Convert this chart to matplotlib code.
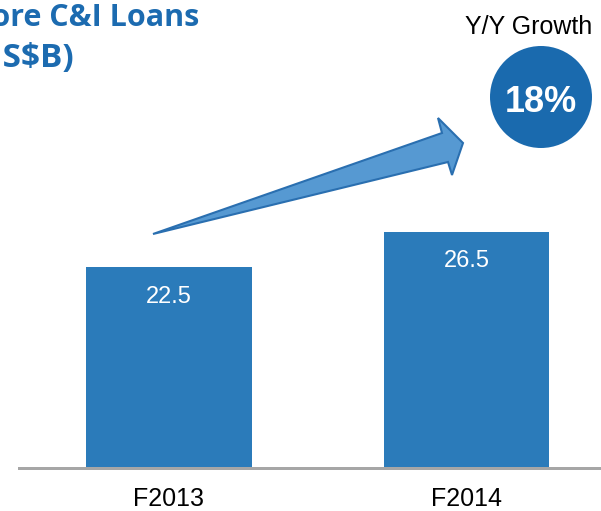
import matplotlib
matplotlib.use("Agg")
import matplotlib.pyplot as plt
from matplotlib.patches import Circle, Polygon

categories = ["F2013", "F2014"]
values = [22.5, 26.5]
title_line1 = "Core C&I Loans"
title_line2 = "(US$B)"
growth_label = "Y/Y Growth"

BAR = "#2b7bba"
TITLE = "#1c6bb0"
CIRCLE = "#1a6aae"

plt.rcParams["font.family"] = ["Liberation Sans", "DejaVu Sans"]

W, H = 601, 511
fig = plt.figure(figsize=(W / 100, H / 100), dpi=100)

# main axes (pixel-calibrated)
ax_left, ax_bottom_px = 19, 467.5
ax = fig.add_axes([ax_left / W, (H - ax_bottom_px) / H, 1 - ax_left / W, ax_bottom_px / H])
x = list(range(len(categories)))
ax.bar(x, values, width=0.556, color=BAR, zorder=1)
ax.set_xlim(-0.5037, 1.452)
ax.set_ylim(0, ax_bottom_px / 8.9)
for s in ["top", "left", "right"]:
    ax.spines[s].set_visible(False)
ax.spines["bottom"].set_color("#a6a6a6")
ax.spines["bottom"].set_linewidth(2.16)
ax.set_yticks([])
ax.set_xticks(x)
ax.set_xticklabels(categories, fontsize=18, color="black")
ax.tick_params(axis="x", length=0, pad=14)
for xi, v in zip(x, values):
    ax.annotate(f"{v:.1f}", (xi, v), xytext=(0, -25.6), textcoords="offset points",
                ha="center", va="baseline", color="white", fontsize=17)

# overlay in pixel coordinates for decorations
ov = fig.add_axes([0, 0, 1, 1], facecolor="none")
ov.set_xlim(0, W)
ov.set_ylim(H, 0)
ov.axis("off")

ov.text(199, 26.5, title_line1, ha="right", va="baseline", fontsize=22,
        fontweight="bold", color=TITLE, family=["Open Sans", "DejaVu Sans"])
ov.text(74, 67.5, title_line2, ha="right", va="baseline", fontsize=24,
        fontweight="bold", color=TITLE, family=["Open Sans", "DejaVu Sans"])

arrow = Polygon([(153, 234), (442, 133), (438, 118), (463, 143), (452, 175), (448, 162)],
                closed=True, facecolor="#5699d2", edgecolor="#2a6fb0", linewidth=1.5,
                joinstyle="miter")
ov.add_patch(arrow)

ov.text(529, 34.5, growth_label, ha="center", va="baseline", fontsize=18, color="black")
ov.add_patch(Circle((541, 97), 51, facecolor=CIRCLE, edgecolor="none"))
growth = round((values[1] / values[0] - 1) * 100)
ov.text(541, 111.5, f"{growth}%", ha="center", va="baseline", fontsize=26,
        fontweight="bold", color="white")

fig.savefig("out.png", dpi=100)
